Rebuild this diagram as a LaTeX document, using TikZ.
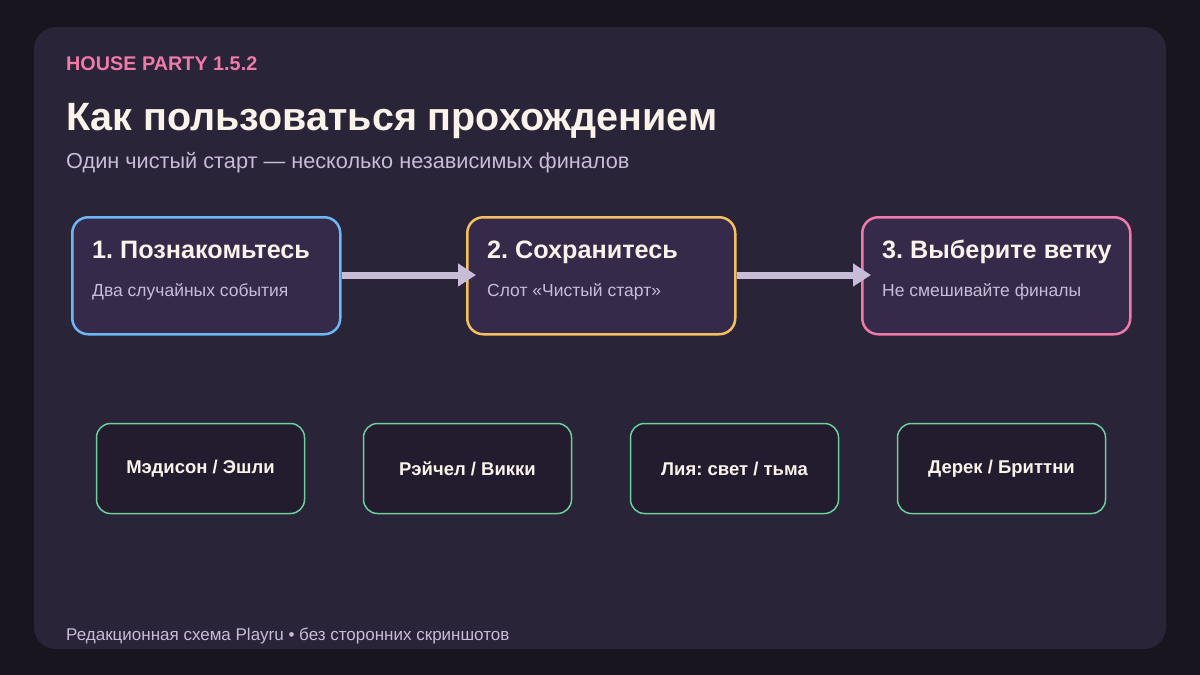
\documentclass[tikz,border=0pt]{standalone}
\usepackage{fontspec}
\setmainfont{Liberation Sans}
\usetikzlibrary{arrows.meta}
\definecolor{outer}{HTML}{18151F}
\definecolor{card}{HTML}{2A2438}
\definecolor{stepfill}{HTML}{362A4A}
\definecolor{endfill}{HTML}{221C2E}
\definecolor{cblue}{HTML}{6CB8F5}
\definecolor{cyellow}{HTML}{F5C060}
\definecolor{cpink}{HTML}{F07AA8}
\definecolor{cgreen}{HTML}{6CCF9C}
\definecolor{arr}{HTML}{C8BCD8}
\definecolor{txt}{HTML}{FBF3EA}
\definecolor{sub}{HTML}{C8BCD8}
\begin{document}
\frenchspacing
\begin{tikzpicture}[x=1pt,y=-1pt,
 stepbox/.style={draw,line width=2.5pt,fill=stepfill,rounded corners=16pt,minimum width=268pt,minimum height=117pt,anchor=north west},
 ending/.style={draw=cgreen,line width=1.5pt,fill=endfill,rounded corners=14pt,minimum width=208pt,minimum height=90pt,text=txt,font=\bfseries\fontsize{18.5}{22}\selectfont},
 st/.style={anchor=base west,text=txt,font=\bfseries\fontsize{25.2}{29}\selectfont,inner sep=0},
 ss/.style={anchor=base west,text=sub,font=\fontsize{17.5}{21}\selectfont,inner sep=0},
 flow/.style={draw=arr,line width=7pt,-{Triangle[length=18pt,width=22pt]}}]
\fill[outer] (0,0) rectangle (1200,675);
\useasboundingbox (0,0) rectangle (1200,675);
\fill[card,rounded corners=22pt] (34,27) rectangle (1166,649);
\node[anchor=base west,inner sep=0,text=cpink,font=\bfseries\fontsize{19.8}{23}\selectfont] (kick) at (66,70) {HOUSE PARTY 1.5.2};
\node[anchor=base west,inner sep=0,text=txt,font=\bfseries\fontsize{39.5}{44}\selectfont] (title) at (66,130) {Как пользоваться прохождением};
\node[anchor=base west,inner sep=0,text=sub,font=\fontsize{21.7}{25}\selectfont] (subt) at (66,168) {Один чистый старт — несколько независимых финалов};
\node[stepbox,draw=cblue] (s1) at (71,216) {};
\node[stepbox,draw=cyellow] (s2) at (466,216) {};
\node[stepbox,draw=cpink] (s3) at (861,216) {};
\node[st] (t1) at (92,258) {1. Познакомьтесь};
\node[ss] (d1) at (92,296) {Два случайных события};
\node[st] (t2) at (487,258) {2. Сохранитесь};
\node[ss] (d2) at (487,296) {Слот «Чистый старт»};
\node[st] (t3) at (882,258) {3. Выберите ветку};
\node[ss] (d3) at (882,296) {Не смешивайте финалы};
\draw[flow] (s1.east|-0,275) -- ([xshift=10pt]s2.west|-0,275);
\draw[flow] (s2.east|-0,275) -- ([xshift=10pt]s3.west|-0,275);
\node[ending] (e1) at (200.5,468.5) {Мэдисон / Эшли};
\node[ending] (e2) at (467.5,468.5) {Рэйчел / Викки};
\node[ending] (e3) at (734.5,468.5) {Лия: свет / тьма};
\node[ending] (e4) at (1001.5,468.5) {Дерек / Бриттни};
\node[anchor=base west,inner sep=0,text=sub,font=\fontsize{17}{20}\selectfont] (foot) at (66,640) {Редакционная схема Playru • без сторонних скриншотов};
\end{tikzpicture}
\end{document}
